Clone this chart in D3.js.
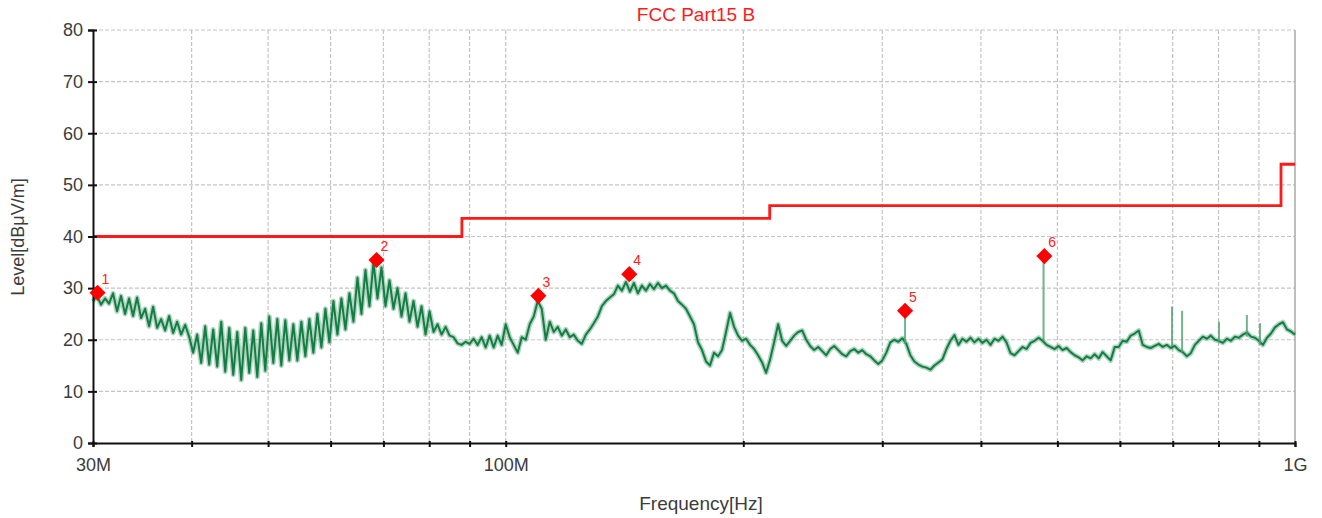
<!DOCTYPE html>
<html>
<head>
<meta charset="utf-8">
<script src="https://cdn.jsdelivr.net/npm/d3@7"></script>
<style>
  body { margin: 0; background: #fff; }
  svg { display: block; font-family: "Liberation Sans", Arial, sans-serif; }
</style>
</head>
<body>
<svg id="chart" width="1322" height="518"></svg>
<script>
// sweep: 30 MHz .. 1 GHz, one reading per step (log spaced), level in dBuV/m
var sweepStart = 30, sweepStop = 1000;
var levels = [
  27.5, 28.5, 26.8, 28.0, 27.0, 29.0, 25.5, 28.5, 25.0, 28.0,
  24.6, 28.2, 24.2, 26.0, 22.6, 26.4, 22.3, 24.0, 21.8, 24.6,
  21.3, 23.5, 21.0, 22.9, 20.6, 17.5, 21.0, 15.5, 22.6, 15.2,
  22.0, 14.8, 23.5, 13.8, 22.3, 13.2, 21.5, 12.2, 22.3, 13.6,
  21.8, 12.8, 23.2, 14.0, 24.5, 15.5, 24.0, 15.0, 23.8, 16.0,
  23.0, 16.0, 23.5, 16.8, 24.0, 17.5, 25.0, 18.5, 26.0, 19.5,
  27.5, 21.0, 28.0, 22.0, 29.0, 23.5, 32.0, 25.0, 33.5, 26.5,
  35.0, 28.0, 34.0, 26.5, 31.5, 26.0, 30.0, 24.5, 29.0, 23.5,
  27.5, 22.5, 26.5, 21.0, 25.5, 21.5, 23.0, 21.0, 22.5, 20.8,
  20.5, 19.3, 19.0, 19.6, 19.2, 20.2, 19.0, 20.5, 18.5, 20.8,
  18.5, 20.8, 19.0, 23.0, 20.5, 19.0, 17.5, 20.5, 20.0, 23.0,
  24.5, 27.5, 26.0, 20.0, 23.5, 21.5, 22.5, 20.8, 22.0, 20.5,
  21.0, 19.8, 19.2, 21.0, 22.0, 23.2, 24.5, 26.5, 27.5, 28.2,
  28.8, 30.5, 29.5, 31.2, 29.3, 31.0, 29.0, 30.5, 29.5, 30.8,
  29.8, 31.0, 30.0, 30.5, 29.5, 29.0, 27.5, 26.8, 26.0, 24.5,
  23.0, 19.5, 18.0, 15.8, 15.0, 17.5, 16.8, 18.0, 21.5, 25.2,
  22.5, 20.8, 19.8, 20.2, 19.0, 18.2, 17.0, 15.6, 13.6, 16.2,
  19.5, 23.0, 19.8, 18.8, 19.8, 20.8, 21.5, 21.8, 20.0, 18.8,
  18.0, 18.6, 17.8, 17.0, 18.2, 18.8, 18.0, 17.2, 16.8, 17.8,
  18.2, 17.5, 18.0, 17.2, 16.8, 16.0, 15.3, 16.0, 17.5, 19.5,
  20.0, 19.6, 20.3, 19.2, 17.0, 15.8, 15.2, 14.8, 14.6, 14.2,
  15.0, 15.6, 16.2, 18.2, 19.8, 20.9, 19.0, 20.2, 19.6, 20.4,
  19.5, 20.2, 19.4, 20.0, 19.0, 20.2, 19.8, 20.6, 19.5, 17.4,
  17.0, 17.8, 18.6, 18.2, 19.4, 19.8, 20.4, 19.8, 19.0, 18.6,
  18.2, 18.8, 18.0, 18.4, 17.6, 17.0, 16.6, 16.0, 16.8, 16.4,
  17.2, 16.4, 17.6, 16.8, 16.0, 18.6, 18.6, 19.8, 19.6, 20.8,
  21.2, 21.8, 19.0, 18.6, 18.4, 18.8, 19.2, 18.6, 19.0, 18.4,
  18.8, 18.0, 17.6, 16.8, 17.4, 19.0, 19.8, 20.6, 20.2, 20.8,
  20.0, 19.8, 19.4, 20.2, 19.8, 20.6, 20.4, 21.0, 21.4, 20.6,
  20.4, 19.8, 19.0, 20.4, 21.2, 22.4, 23.0, 23.4, 22.0, 21.6,
  21.0
];
// narrow spikes: [MHz, base level, top level]
var spikes = [
  [320.6, 19.2, 25.6],
  [480.2, 19.8, 36.4],
  [698.5, 18.8, 26.4],
  [719.4, 17.6, 25.6],
  [801.0, 19.4, 23.5],
  [869.0, 20.6, 24.8],
  [903.0, 19.0, 23.2]
];
// FCC Part15 B limit (step line)
var limitFreq  = [30, 88, 88, 216, 216, 960, 960, 1000];
var limitLevel = [40, 40, 43.5, 43.5, 46, 46, 54, 54];
// peak markers
var markerNo    = [1, 2, 3, 4, 5, 6];
var markerFreq  = [30.4, 68.6, 110.0, 143.4, 320.6, 481.3];
var markerLevel = [29.1, 35.45, 28.5, 32.7, 25.6, 36.2];

var yTicks = [0, 10, 20, 30, 40, 50, 60, 70, 80];
var xGrid = [40, 50, 60, 70, 80, 90, 100, 200, 300, 400, 500, 600, 700, 800, 900];
var xLabelValues = [30, 100, 1000];
var xLabelText = ["30M", "100M", "1G"];

var svg = d3.select('#chart');
var plotLeft = 93, plotRight = 1295, plotTop = 30, plotBottom = 443;

var x = d3.scaleLog().domain([sweepStart, sweepStop]).range([plotLeft, plotRight]);
var y = d3.scaleLinear().domain([0, 80]).range([plotBottom, plotTop]);

var n = levels.length;
var trace = levels.map(function(d, i) {
  return [sweepStart * Math.pow(sweepStop / sweepStart, i / (n - 1)), d];
});

// grid
var grid = svg.append('g').attr('class', 'grid');
grid.selectAll('line.h').data(yTicks.filter(function(d){ return d > 0; }))
  .enter().append('line')
  .attr('x1', plotLeft).attr('x2', plotRight)
  .attr('y1', function(d){ return y(d); }).attr('y2', function(d){ return y(d); })
  .style('stroke', '#c4c4c4').style('stroke-width', 1.2).style('stroke-dasharray', '4,2');
grid.selectAll('line.v').data(xGrid)
  .enter().append('line')
  .attr('y1', plotTop).attr('y2', plotBottom)
  .attr('x1', function(d){ return x(d); }).attr('x2', function(d){ return x(d); })
  .style('stroke', '#c4c4c4').style('stroke-width', 1.2).style('stroke-dasharray', '4,2');

// right border
svg.append('line')
  .attr('x1', plotRight).attr('x2', plotRight).attr('y1', plotTop).attr('y2', plotBottom)
  .style('stroke', '#a8a8a8').style('stroke-width', 1.5);

// limit line
var limitLine = d3.line()
  .x(function(d){ return x(d[0]); })
  .y(function(d){ return y(d[1]); });
svg.append('path')
  .datum(limitFreq.map(function(f, i){ return [f, limitLevel[i]]; }))
  .attr('d', limitLine)
  .style('fill', 'none').style('stroke', '#ff1a1a').style('stroke-width', 2.8);

// trace
var traceLine = d3.line()
  .x(function(d){ return x(d[0]); })
  .y(function(d){ return y(d[1]); });
svg.append('path').datum(trace).attr('d', traceLine)
  .style('fill', 'none').style('stroke', '#5fae80').style('stroke-width', 5)
  .style('stroke-opacity', 0.5).style('stroke-linejoin', 'round');
svg.append('path').datum(trace).attr('d', traceLine)
  .style('fill', 'none').style('stroke', '#167c45').style('stroke-width', 2)
  .style('stroke-linejoin', 'round');

svg.selectAll('line.spike').data(spikes).enter().append('line')
  .attr('x1', function(d){ return x(d[0]); }).attr('x2', function(d){ return x(d[0]); })
  .attr('y1', function(d){ return y(d[1]); }).attr('y2', function(d){ return y(d[2]); })
  .style('stroke', '#4f9f70').style('stroke-width', 2).style('stroke-opacity', 0.8);

// axes
var yAxis = d3.axisLeft(y).tickValues(yTicks).tickSize(5).tickFormat(d3.format('d'));
var yg = svg.append('g').attr('transform', 'translate(' + plotLeft + ',0)').call(yAxis);
yg.select('.domain').style('stroke', '#111').style('stroke-width', 2);
yg.selectAll('.tick line').attr('x2', -5).attr('x1', 4).style('stroke', '#111').style('stroke-width', 2);
yg.selectAll('.tick text').attr('x', -10)
  .style('font-size', '18px').style('fill', '#3c3c3c').style('font-family', '"Liberation Sans", Arial, sans-serif');

var xTickValues = xGrid.filter(function(d){ return xLabelValues.indexOf(d) < 0; }).concat(xLabelValues);
var xAxis = d3.axisBottom(x).tickValues(xTickValues).tickSize(4)
  .tickFormat(function(d){ var k = xLabelValues.indexOf(d); return k < 0 ? '' : xLabelText[k]; });
var xg = svg.append('g').attr('transform', 'translate(0,' + plotBottom + ')').call(xAxis);
xg.select('.domain').style('stroke', '#111').style('stroke-width', 2);
xg.selectAll('.tick line').attr('y1', -2).attr('y2', 4).style('stroke', '#111').style('stroke-width', 2);
xg.selectAll('.tick text').attr('y', 15)
  .style('font-size', '18px').style('fill', '#3c3c3c').style('font-family', '"Liberation Sans", Arial, sans-serif');

// markers
var diamond = d3.symbol().type(d3.symbolSquare).size(130);
var mk = svg.selectAll('g.marker').data(markerNo).enter().append('g')
  .attr('transform', function(d, i){ return 'translate(' + x(markerFreq[i]) + ',' + y(markerLevel[i]) + ')'; });
mk.append('path').attr('d', diamond).attr('transform', 'rotate(45)').style('fill', '#ff0000');
mk.append('text').attr('x', 4).attr('y', -9).text(function(d){ return d; })
  .style('font-size', '14px').style('fill', '#ff2020');

// titles
svg.append('text').attr('x', 696).attr('y', 21).attr('text-anchor', 'middle')
  .text('FCC Part15 B').style('font-size', '19px').style('fill', '#ff1a1a');
svg.append('text').attr('x', 701).attr('y', 510).attr('text-anchor', 'middle')
  .text('Frequency[Hz]').style('font-size', '19px').style('fill', '#3c3c3c');
svg.append('text').attr('transform', 'translate(24,237) rotate(-90)').attr('text-anchor', 'middle')
  .text('Level[dBμV/m]').style('font-size', '18px').style('fill', '#3c3c3c');
</script>
</body>
</html>
